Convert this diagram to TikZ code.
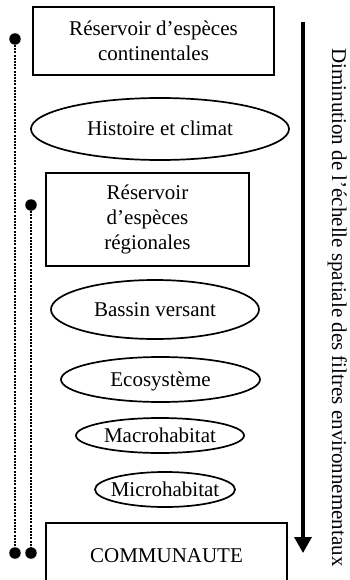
\documentclass[tikz,border=0pt]{standalone}
\usepackage{fontspec}
\setmainfont{Liberation Serif}
\usetikzlibrary{shapes.geometric,arrows.meta}

% label of zero size, so an ellipse keeps the size it is given
\newcommand{\ellipselabel}[1]{\raisebox{-.33em}[0pt][0pt]{\makebox[0pt]{#1}}}

\begin{document}
\begin{tikzpicture}[x=1pt,y=-1pt,
  every node/.style={font=\fontsize{21}{25}\selectfont},
  boxnode/.style={draw,line width=1.8pt,rectangle,align=center,inner sep=0pt},
  ellnode/.style={draw,line width=1.7pt,ellipse,inner sep=0pt},
  dotend/.style={circle,fill=black,minimum size=11.5pt,inner sep=0pt},
  dotline/.style={line width=2.4pt,dash pattern=on 2pt off 1.2pt},
  scalearrow/.style={line width=3.4pt,-{Triangle[width=17pt,length=16pt]}}]
\useasboundingbox (0,0) rectangle (349,580);
\clip (0,0) rectangle (349,580);

% filters, from the widest scale to the finest
\node[boxnode,minimum width=241pt,minimum height=68pt] (rescont) at (153.5,41)
  {Réservoir d’espèces\\continentales};
\node[ellnode,minimum width=258pt,minimum height=62pt] (hist) at (160,129)
  {\ellipselabel{Histoire et climat}};
\node[boxnode,minimum width=203pt,minimum height=93pt] (resreg) at (147.5,219.5)
  {Réservoir\\d’espèces\\régionales};
\node[ellnode,minimum width=208pt,minimum height=59pt] (bassin) at (155,309.5)
  {\ellipselabel{Bassin versant}};
\node[ellnode,minimum width=199pt,minimum height=45pt] (eco) at (160.5,379.5)
  {\ellipselabel{Ecosystème}};
\node[ellnode,minimum width=168pt,minimum height=35pt] (macro) at (160,435.5)
  {\ellipselabel{Macrohabitat}};
\node[ellnode,minimum width=140pt,minimum height=35pt] (micro) at (165,489.5)
  {\ellipselabel{Microhabitat}};
\node[boxnode,minimum width=241pt,minimum height=66pt] (comm) at (166.5,556)
  {COMMUNAUTE};

% dotted links from the species pools down to the community
\node[dotend] (conttop) at (15,39) {};
\node[dotend] (contbot) at (15,553) {};
\node[dotend] (regtop) at (31,205) {};
\node[dotend] (regbot) at (31,553) {};
\draw[dotline] (conttop) -- (contbot);
\draw[dotline] (regtop) -- (regbot);

% decreasing spatial scale
\coordinate (scaletop) at (303,22);
\coordinate (scalebot) at (303,553);
\draw[scalearrow] (scaletop) -- (scalebot);
\node[rotate=-90,anchor=base,inner sep=0pt] (scalelabel) at (332,307.5)
  {Diminution de l’échelle spatiale des filtres environnementaux};
\end{tikzpicture}
\end{document}
